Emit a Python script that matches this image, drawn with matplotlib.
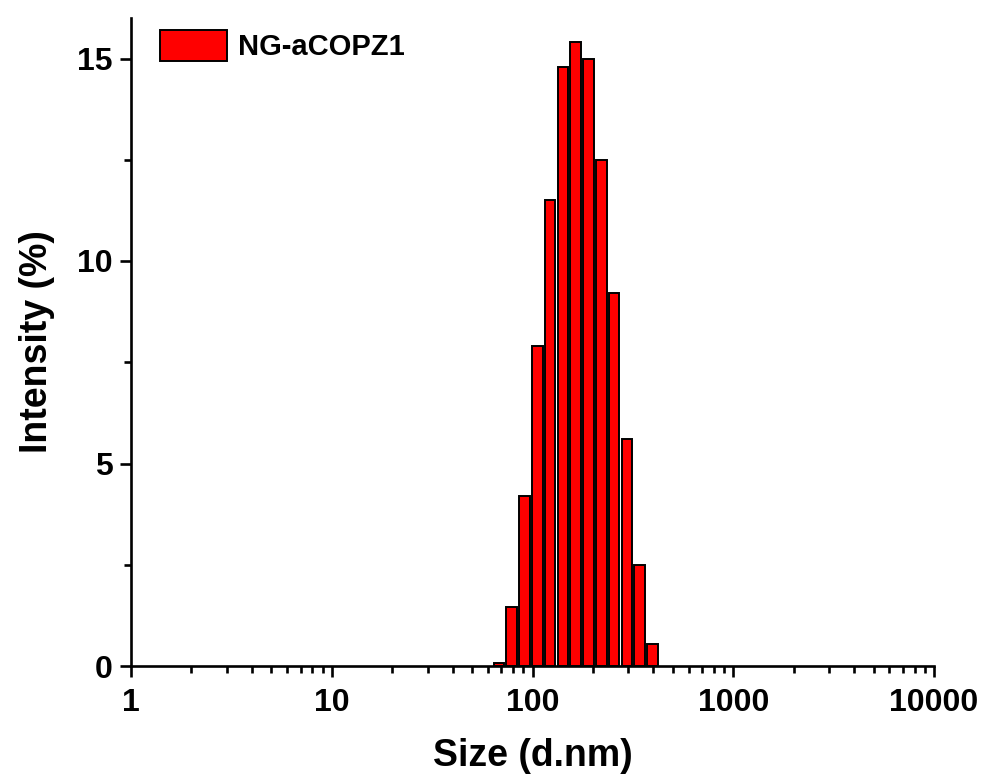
import numpy as np
import matplotlib
matplotlib.use("Agg")
import matplotlib.pyplot as plt
from matplotlib.ticker import FixedLocator, LogLocator, NullFormatter, FixedFormatter

sizes = [68.06, 78.82, 91.28, 105.7, 122.4, 141.8, 164.2, 190.1, 220.2, 255.0, 295.3, 342.0, 396.1]
intensity = [0.07, 1.45, 4.2, 7.9, 11.5, 14.8, 15.4, 15.0, 12.5, 9.2, 5.6, 2.5, 0.55]
series_label = "NG-aCOPZ1"
xticks = [1, 10, 100, 1000, 10000]
xticklabels = ["1", "10", "100", "1000", "10000"]
yticks = [0, 5, 10, 15]

plt.rcParams['font.family'] = ['Liberation Sans', 'DejaVu Sans']
plt.rcParams['font.weight'] = 'bold'

fig = plt.figure(figsize=(9.87, 7.78), dpi=100)
ax = fig.add_axes([131/987, 1-666/778, (934-131)/987, (666-18)/778])

x = np.array(sizes)
lx = np.log10(x)
step = np.median(np.diff(lx))
frac = 0.84
left = 10**(lx - frac*step/2)
right = 10**(lx + frac*step/2)
ax.bar(left, intensity, width=right-left, align='edge', color='#ff0000',
       edgecolor='black', linewidth=1.4, label=series_label, zorder=2)

ax.set_xscale('log')
ax.set_xlim(1, 10000)
ax.set_ylim(0, 16)
ax.xaxis.set_major_locator(FixedLocator(xticks))
ax.xaxis.set_major_formatter(FixedFormatter(xticklabels))
ax.xaxis.set_minor_locator(LogLocator(base=10, subs=np.arange(2, 10), numticks=20))
ax.xaxis.set_minor_formatter(NullFormatter())
ax.yaxis.set_major_locator(FixedLocator(yticks))
ax.yaxis.set_minor_locator(FixedLocator([2.5, 7.5, 12.5]))

for s in ['top', 'right']:
    ax.spines[s].set_visible(False)
for s in ['left', 'bottom']:
    ax.spines[s].set_linewidth(1.9)
    ax.spines[s].set_zorder(3)

ax.tick_params(axis='both', which='major', direction='out', length=8, width=1.9,
               labelsize=23)
ax.tick_params(axis='x', which='major', pad=8)
ax.tick_params(axis='y', which='major', pad=5)
ax.tick_params(axis='both', which='minor', direction='out', length=5, width=1.9)
for lab in ax.get_xticklabels() + ax.get_yticklabels():
    lab.set_fontweight('bold')

ax.set_xlabel("Size (d.nm)", fontsize=27, fontweight='bold', labelpad=14)
ax.set_ylabel("Intensity (%)", fontsize=27, fontweight='bold', labelpad=16)

leg = ax.legend(loc='upper left', bbox_to_anchor=(0.022, 1.0), frameon=False,
                fontsize=21, handlelength=2.3, handleheight=1.3, handletextpad=0.35,
                borderaxespad=0.0)
for t in leg.get_texts():
    t.set_fontweight('bold')

fig.savefig("out.png", dpi=100)
